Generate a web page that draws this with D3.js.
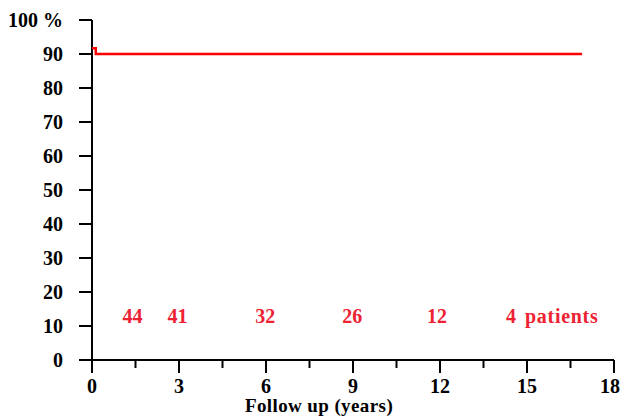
<!DOCTYPE html>
<html><head><meta charset="utf-8">
<script src="https://cdn.jsdelivr.net/npm/d3@7"></script>
<style>body{margin:0;background:#fff}svg{display:block}</style>
</head><body>
<svg id="c" width="622" height="417"></svg>
<script>
const survivalTimes = [0, 0.13, 16.9];
const survivalValues = [91.7, 90, 90];
const xTicks = [0, 3, 6, 9, 12, 15, 18];
const xMinorTicks = [1.5, 4.5, 7.5, 10.5, 13.5, 16.5];
const yTicks = [0, 10, 20, 30, 40, 50, 60, 70, 80, 90, 100];
const atRiskTimes = [1.4, 2.95, 5.97, 8.97, 11.9, 14.45];
const atRiskCounts = [44, 41, 32, 26, 12, 4];

const svg = d3.select("#c");
const x = d3.scaleLinear().domain([0, 18]).range([92, 614]);
const y = d3.scaleLinear().domain([0, 100]).range([360, 20]);
const font = "'Liberation Serif','Times New Roman',serif";

svg.append("line").attr("x1", 80).attr("x2", x(18)).attr("y1", y(0)).attr("y2", y(0))
  .attr("stroke", "#000").attr("stroke-width", 2);
svg.append("line").attr("x1", x(0)).attr("x2", x(0)).attr("y1", y(100)).attr("y2", y(0) + 1)
  .attr("stroke", "#000").attr("stroke-width", 2);

svg.selectAll(".xt").data(xTicks).enter().append("line")
  .attr("x1", d => x(d)).attr("x2", d => x(d)).attr("y1", y(0)).attr("y2", y(0) + 13)
  .attr("stroke", "#000").attr("stroke-width", 2);
svg.selectAll(".xm").data(xMinorTicks).enter().append("line")
  .attr("x1", d => x(d)).attr("x2", d => x(d)).attr("y1", y(0)).attr("y2", y(0) + 8)
  .attr("stroke", "#000").attr("stroke-width", 2);
svg.selectAll(".xl").data(xTicks).enter().append("text")
  .attr("x", d => d === 18 ? 620 : x(d)).attr("y", 393)
  .attr("text-anchor", d => d === 18 ? "end" : "middle")
  .attr("font-family", font).attr("font-weight", "bold").attr("font-size", 20)
  .text(d => d);

svg.selectAll(".yt").data(yTicks).enter().append("line")
  .attr("x1", 79).attr("x2", x(0)).attr("y1", d => y(d)).attr("y2", d => y(d))
  .attr("stroke", "#000").attr("stroke-width", 2);
svg.selectAll(".yl").data(yTicks).enter().append("text")
  .attr("x", 63).attr("y", d => y(d) + 7).attr("text-anchor", "end")
  .attr("font-family", font).attr("font-weight", "bold").attr("font-size", 20)
  .text(d => d === 100 ? "100 %" : d);

const pts = survivalTimes.map((t, i) => [t, survivalValues[i]]);
svg.append("path").datum(pts)
  .attr("d", d3.line().x(d => x(d[0])).y(d => y(d[1])).curve(d3.curveStepAfter))
  .attr("fill", "none").attr("stroke", "#ff0000").attr("stroke-width", 2.5);

svg.selectAll(".ar").data(atRiskCounts).enter().append("text")
  .attr("x", (d, i) => x(atRiskTimes[i])).attr("y", 323).attr("text-anchor", "middle")
  .attr("font-family", font).attr("font-weight", "bold").attr("font-size", 20)
  .attr("fill", "#ee2233").text(d => d);
svg.append("text").attr("x", 525).attr("y", 323)
  .attr("font-family", font).attr("font-weight", "bold").attr("font-size", 20)
  .attr("letter-spacing", 0.7)
  .attr("fill", "#ee2233").text("patients");

svg.append("text").attr("x", 319).attr("y", 412).attr("text-anchor", "middle")
  .attr("font-family", font).attr("font-weight", "bold").attr("font-size", 19)
  .attr("letter-spacing", 0.4)
  .text("Follow up (years)");
</script>
</body></html>
